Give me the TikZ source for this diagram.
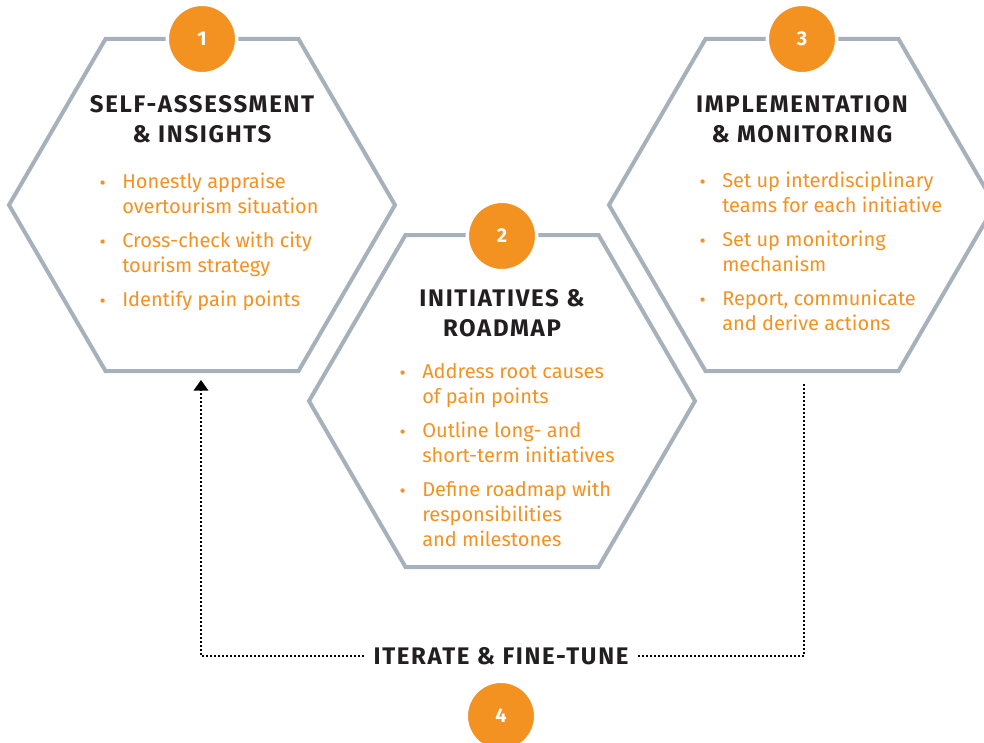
\documentclass[tikz,border=0pt]{standalone}
\usepackage{fontspec}
\setmainfont{Fira Sans}
\newfontfamily\headfont[LetterSpace=7]{Fira Sans}
\newfontfamily\dotfont{DejaVu Sans}
\usetikzlibrary{arrows.meta}

\definecolor{hexgrey}{HTML}{A7B1BB}
\definecolor{stepor}{HTML}{F39121}
\definecolor{inkdark}{HTML}{231F20}

\newcommand{\dotb}{{\dotfont\fontsize{11}{11}\selectfont •}}

\tikzset{
  hexline/.style={draw=hexgrey, line width=3pt},
  numdot/.style={circle, fill=stepor, draw=white, line width=2.5pt, minimum size=52pt,
    inner sep=0pt, text=white, font=\bfseries\fontsize{15}{15}\selectfont},
  headtxt/.style={align=center, anchor=base, text=inkdark, inner sep=0pt,
    font=\headfont\bfseries\fontsize{18}{22.5}\selectfont},
  listtxt/.style={anchor=north west, text=stepor, inner sep=0pt,
    font=\fontsize{15}{18.75}\selectfont},
  loopline/.style={line width=1.2pt, dash pattern=on 1.2pt off 1.8pt}
}

\begin{document}
\begin{tikzpicture}[x=0.75pt, y=-0.75pt]
  \useasboundingbox (0,0) rectangle (984,742);

  % the three hexagons
  \foreach \cx/\cy in {202/205, 502/401, 802/205}
    \draw[hexline] (\cx-193,\cy) -- (\cx-96.5,\cy-166) -- (\cx+96.5,\cy-166)
      -- (\cx+193,\cy) -- (\cx+96.5,\cy+166) -- (\cx-96.5,\cy+166) -- cycle;

  % numbers on top
  \node[numdot] (num1) at (202,39) {1};
  \node[numdot] (num2) at (502,236) {2};
  \node[numdot] (num3) at (802,39) {3};
  \node[numdot] (num4) at (501,716) {4};

  % titles
  \node[headtxt] (head1) at (202,142) {SELF-ASSESSMENT\\\& INSIGHTS};
  \node[headtxt] (head2) at (502,336) {INITIATIVES \&\\ROADMAP};
  \node[headtxt] (head3) at (802,142) {IMPLEMENTATION\\\& MONITORING};

  % bullet lists
  \node[listtxt] (list1) at (98,170.5) {\begin{tabular}{@{}p{18pt}@{}l@{}}
    \dotb & Honestly appraise\\ & overtourism situation\\[6.75pt]
    \dotb & Cross-check with city\\ & tourism strategy\\[6.75pt]
    \dotb & Identify pain points
  \end{tabular}};
  \node[listtxt] (list2) at (398,360.5) {\begin{tabular}{@{}p{18pt}@{}l@{}}
    \dotb & Address root causes\\ & of pain points\\[6.75pt]
    \dotb & Outline long- and\\ & short-term initiatives\\[6.75pt]
    \dotb & Define roadmap with\\ & responsibilities\\ & and milestones
  \end{tabular}};
  \node[listtxt] (list3) at (698,169.5) {\begin{tabular}{@{}p{18pt}@{}l@{}}
    \dotb & Set up interdisciplinary\\ & teams for each initiative\\[6.75pt]
    \dotb & Set up monitoring\\ & mechanism\\[6.75pt]
    \dotb & Report, communicate\\ & and derive actions
  \end{tabular}};

  % feedback loop
  \coordinate (loopfrom) at (804,382);
  \coordinate (loopto) at (201,380);
  \node[text=inkdark, fill=white, inner xsep=7pt, inner ysep=2pt,
    font=\headfont\bfseries\fontsize{18}{18}\selectfont] (iter) at (501,656) {ITERATE \& FINE-TUNE};
  \draw[loopline] (iter.east) -| (loopfrom);
  \draw[loopline, -{Triangle[width=11pt,length=8pt]}] (iter.west) -| (loopto);
\end{tikzpicture}
\end{document}
